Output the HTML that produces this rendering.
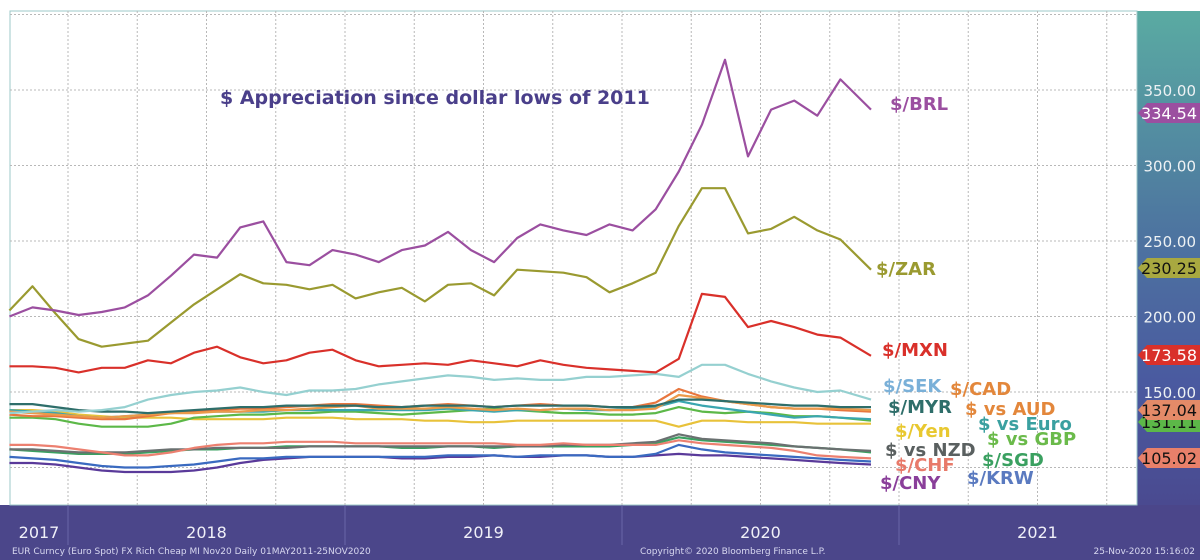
<!DOCTYPE html>
<html><head><meta charset="utf-8">
<style>
html,body{margin:0;padding:0;background:#fff;width:1200px;height:560px;overflow:hidden;font-family:"DejaVu Sans","Liberation Sans",sans-serif}
svg{display:block}
</style></head>
<body>
<svg id="chart" width="1200" height="560" viewBox="0 0 1200 560" xmlns="http://www.w3.org/2000/svg">
<defs>
<linearGradient id="axisGrad" x1="0" y1="0" x2="0" y2="1">
<stop offset="0" stop-color="#5aaba2"/>
<stop offset="0.45" stop-color="#4d74a0"/>
<stop offset="0.75" stop-color="#4a5aa0"/>
<stop offset="1" stop-color="#4a4a90"/>
</linearGradient>
</defs>
<rect x="0" y="0" width="1200" height="560" fill="#ffffff"/>
<rect x="1137" y="11" width="63" height="494" fill="url(#axisGrad)"/>
<rect x="0" y="505" width="1200" height="55" fill="#4b468a"/>
<rect x="10" y="11" width="1127" height="494" fill="#ffffff" stroke="#9cc8c8" stroke-width="1"/>
<g id="grid"></g>
<g id="series"></g>
<g id="yaxis"></g>
<g id="xaxis"></g>
<text x="220" y="104" font-size="19" font-weight="bold" fill="#4a3f8a">$ Appreciation since dollar lows of 2011</text>
<g font-size="18" font-weight="bold">
<text x="890" y="110" fill="#9b4fa0">$/BRL</text>
<text x="876" y="275" fill="#9a9a30">$/ZAR</text>
<text x="882" y="356" fill="#d9302a">$/MXN</text>
<text x="883" y="392" fill="#7ab0d8">$/SEK</text>
<text x="950" y="395" fill="#e3873b">$/CAD</text>
<text x="888" y="413" fill="#2e6e6a">$/MYR</text>
<text x="965" y="415" fill="#e3873b">$ vs AUD</text>
<text x="978" y="430" fill="#3aa0a0">$ vs Euro</text>
<text x="895" y="437" fill="#e8c830">$/Yen</text>
<text x="987" y="445" fill="#6aba4a">$ vs GBP</text>
<text x="885" y="456" fill="#5a6060">$ vs NZD</text>
<text x="982" y="466" fill="#3aa060">$/SGD</text>
<text x="895" y="471" fill="#e87a6a">$/CHF</text>
<text x="967" y="484" fill="#5a7ac0">$/KRW</text>
<text x="880" y="489" fill="#8a3f9a">$/CNY</text>
</g>
<g id="tags"></g>
<text x="12" y="554" font-size="9" fill="#d8d8f0">EUR Curncy (Euro Spot) FX Rich Cheap MI Nov20  Daily 01MAY2011-25NOV2020</text>
<text x="640" y="554" font-size="9" fill="#d8d8f0">Copyright© 2020 Bloomberg Finance L.P.</text>
<text x="1195" y="554" font-size="9" fill="#d8d8f0" text-anchor="end">25-Nov-2020 15:16:02</text>
</svg>
<script>
const dates = ['2017-10-15','2017-11-15','2017-12-15','2018-01-15','2018-02-15','2018-03-15','2018-04-15','2018-05-15','2018-06-15','2018-07-15','2018-08-15','2018-09-15','2018-10-15','2018-11-15','2018-12-15','2019-01-15','2019-02-15','2019-03-15','2019-04-15','2019-05-15','2019-06-15','2019-07-15','2019-08-15','2019-09-15','2019-10-15','2019-11-15','2019-12-15','2020-01-15','2020-02-15','2020-03-15','2020-04-15','2020-05-15','2020-06-15','2020-07-15','2020-08-15','2020-09-15','2020-10-15','2020-11-25'];
const brl = [200,206,204,201,203,206,214,227,241,239,259,263,236,234,244,241,236,244,247,256,244,236,252,261,257,254,261,257,271,296,327,370,306,337,343,333,357,337];
const zar = [204,220,202,185,180,182,184,196,208,218,228,222,221,218,221,212,216,219,210,221,222,214,231,230,229,226,216,222,229,260,285,285,255,258,266,257,251,231];
const mxn = [167,167,166,163,166,166,171,169,176,180,173,169,171,176,178,171,167,168,169,168,171,169,167,171,168,166,165,164,163,172,215,213,193,197,193,188,186,174];
const sek = [136,137,138,137,138,140,145,148,150,151,153,150,148,151,151,152,155,157,159,161,160,158,159,158,158,160,160,161,162,160,168,168,162,157,153,150,151,145];
const myr = [142,142,140,138,137,137,136,137,138,139,140,140,141,141,141,141,140,140,141,141,141,140,141,141,141,141,140,140,141,145,145,144,143,142,141,141,140,140];
const cad = [137,136,135,134,133,134,135,136,136,137,137,138,138,139,140,141,139,139,139,140,139,138,139,138,139,139,138,138,139,148,146,144,142,140,139,139,139,138];
const aud = [135,134,134,133,132,132,134,136,137,138,139,139,140,141,142,142,141,140,141,142,141,140,141,142,141,141,140,140,143,152,147,144,142,140,139,139,138,137];
const eur = [138,137,136,134,133,134,135,136,137,137,137,137,138,138,138,138,138,138,138,139,138,137,138,138,139,138,138,139,140,144,141,139,137,135,133,134,133,132];
const gbp = [133,133,132,129,127,127,127,129,133,134,135,135,136,136,137,137,136,135,136,137,138,139,138,137,136,136,135,135,136,140,137,136,137,136,134,134,133,131];
const jpy = [138,138,137,135,134,133,133,133,132,132,132,132,133,133,133,132,132,132,131,131,130,130,131,131,131,131,131,131,131,127,131,131,130,130,130,129,129,129];
const chf = [115,115,114,112,110,108,108,110,113,115,116,116,117,117,117,116,116,116,116,116,116,116,115,115,116,115,115,115,115,118,116,115,114,113,111,108,107,106];
const nzd = [112,112,111,110,110,110,111,112,112,113,113,113,113,114,114,114,114,114,114,114,114,114,114,114,115,115,115,116,117,122,119,118,117,116,114,113,112,111];
const sgd = [112,111,110,109,109,109,110,111,112,112,113,113,114,114,114,114,114,113,113,114,114,113,114,114,114,114,114,115,116,120,118,117,116,115,114,113,112,110];
const krw = [107,106,105,103,101,100,100,101,102,104,106,106,107,107,107,107,107,107,107,108,108,108,107,108,108,108,107,107,109,115,112,110,109,108,107,106,105,104];
const cny = [103,103,102,100,98,97,97,97,98,100,103,105,106,107,107,107,107,106,106,107,107,108,107,107,108,108,107,107,108,109,108,108,107,106,105,104,103,102];
const yTicks = [150,200,250,300,350];
const yGrid = [100,150,200,250,300,350,400];
const yearLabels = ['2017','2018','2019','2020','2021'];
const lastTags = ['334.54','230.25','173.58','131.11','137.04','105.02'];

const NS='http://www.w3.org/2000/svg';
function toYear(s){const p=s.split('-').map(Number);return p[0]+(p[1]-1)/12+(p[2]-1)/365;}
function xs(d){return 68+(d-2018)*277;}
function ys(v){return 90+(350-v)*1.51;}
function mk(tag,parent){const e=document.createElementNS(NS,tag);parent.appendChild(e);return e;}

const grid=document.getElementById('grid');
yGrid.forEach(v=>{const l=mk('line',grid);


l.setAttribute('x1',10);l.setAttribute('x2',1137);l.setAttribute('y1',ys(v));l.setAttribute('y2',ys(v));
l.setAttribute('stroke','#b8b8b8');l.setAttribute('stroke-dasharray','2,2');});
for(let q=2017.75;q<2022;q+=0.25){const x=xs(q);if(x<12||x>1135)continue;const l=mk('line',grid);


l.setAttribute('x1',x);l.setAttribute('x2',x);l.setAttribute('y1',11);l.setAttribute('y2',505);
l.setAttribute('stroke','#b8b8b8');l.setAttribute('stroke-dasharray','2,2');}

const seriesDefs=[['series-cny',cny,'#5a3a9a'],['series-krw',krw,'#3a6ac0'],['series-sgd',sgd,'#3aa060'],['series-nzd',nzd,'#6a7070'],['series-chf',chf,'#ec8070'],
['series-yen',jpy,'#e8c23a'],['series-gbp',gbp,'#5cb848'],['series-euro',eur,'#3aa6b0'],['series-aud',aud,'#e8763e'],['series-cad',cad,'#eb9a4a'],['series-myr',myr,'#2e6e6a'],
['series-sek',sek,'#95d0d0'],['series-mxn',mxn,'#d9302a'],['series-zar',zar,'#9a9a30'],['series-brl',brl,'#9b4fa0']];
const sg=document.getElementById('series');
const dx=dates.map(toYear);
seriesDefs.forEach(([name,vals,col])=>{const p=mk('path',sg);


p.setAttribute('d',vals.map((v,i)=>(i?'L':'M')+xs(dx[i]).toFixed(1)+','+ys(v).toFixed(1)).join(''));
p.setAttribute('fill','none');p.setAttribute('stroke',col);p.setAttribute('stroke-width','2.2');p.setAttribute('stroke-linejoin','round');});

const ya=document.getElementById('yaxis');
yTicks.forEach(v=>{const t=mk('text',ya);


t.setAttribute('x',1196);t.setAttribute('y',ys(v)+6);t.setAttribute('text-anchor','end');t.setAttribute('font-size','15');t.setAttribute('fill','#eef2f4');t.textContent=v.toFixed(2);});

const xa=document.getElementById('xaxis');
[2018,2019,2020,2021].forEach(y=>{const l=mk('line',xa);


l.setAttribute('x1',xs(y));l.setAttribute('x2',xs(y));l.setAttribute('y1',505);l.setAttribute('y2',545);l.setAttribute('stroke','#6a66a8');});
yearLabels.forEach((lab,i)=>{const y=Number(lab);let cx=xs(y+0.5);if(i===0)cx=39;
const t=mk('text',xa);


t.setAttribute('x',cx);t.setAttribute('y',538);t.setAttribute('text-anchor','middle');t.setAttribute('font-size','16');t.setAttribute('fill','#f0f0f8');t.textContent=lab;});

const tg=document.getElementById('tags');
const tagCols=[['#9b4fa0','#fff',brl],['#a8a840','#111',zar],['#d9302a','#fff',mxn],['#5cb848','#111',gbp],['#e48a68','#111',aud],['#e8806a','#111',chf]];
const tagY=[113,268,355,422,410,458];
lastTags.forEach((lab,i)=>{const [bg,fg]=tagCols[i];const cy=tagY[i];
const p=mk('polygon',tg);


p.setAttribute('points',`1138,${cy} 1147,${cy-10} 1200,${cy-10} 1200,${cy+10} 1147,${cy+10}`);p.setAttribute('fill',bg);
const t=mk('text',tg);


t.setAttribute('x',1197);t.setAttribute('y',cy+6);t.setAttribute('text-anchor','end');t.setAttribute('font-size','16');t.setAttribute('fill',fg);t.textContent=lab;});
</script>
</body></html>
